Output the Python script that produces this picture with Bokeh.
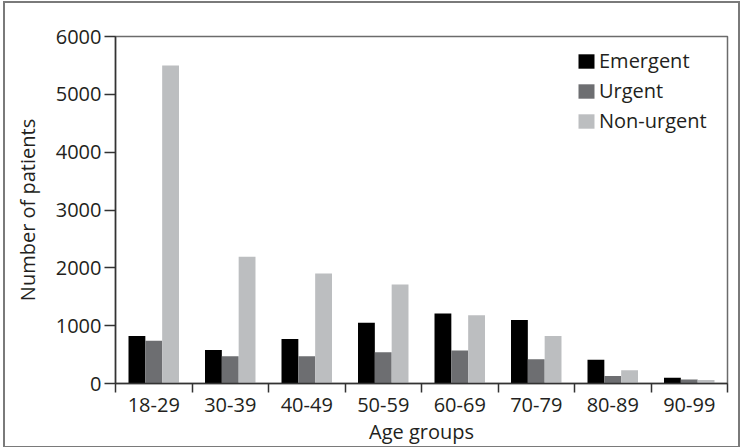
from bokeh.plotting import figure
from bokeh.models import Range1d, FixedTicker, ColumnDataSource
from bokeh.transform import dodge
from bokeh.embed import file_html
from bokeh.resources import INLINE

age_groups = ["18-29", "30-39", "40-49", "50-59", "60-69", "70-79", "80-89", "90-99"]
emergent = [820, 580, 770, 1050, 1210, 1100, 410, 100]
urgent = [740, 470, 470, 540, 570, 420, 130, 70]
non_urgent = [5500, 2190, 1900, 1710, 1180, 820, 230, 60]
y_ticks = [0, 1000, 2000, 3000, 4000, 5000, 6000]

FONT = "Open Sans"
TXT = "#231f20"
FS = "20px"

pos = [i + 0.5 for i in range(len(age_groups))]
src = ColumnDataSource(dict(x=pos, e=emergent, u=urgent, n=non_urgent))

p = figure(width=737, height=447, output_backend="svg", toolbar_location=None,
           x_range=Range1d(0, len(age_groups)), y_range=Range1d(0, 6000),
           min_border_left=110, min_border_right=15, min_border_top=33, min_border_bottom=67)
p.styles = {"border": "2px solid #7a7a7a", "margin-left": "3px", "margin-top": "1px"}

w = 0.22
p.vbar(x=dodge("x", -w, range=p.x_range), top="e", width=w, source=src,
       fill_color="#000000", line_color=None, legend_label="Emergent")
p.vbar(x=dodge("x", 0, range=p.x_range), top="u", width=w, source=src,
       fill_color="#6d6e71", line_color=None, legend_label="Urgent")
p.vbar(x=dodge("x", w, range=p.x_range), top="n", width=w, source=src,
       fill_color="#bcbec0", line_color=None, legend_label="Non-urgent")

p.grid.visible = False
p.outline_line_color = "#6b6b6b"
p.outline_line_width = 1.5
p.background_fill_color = "white"
p.border_fill_color = "white"

# x axis
xa = p.xaxis[0]
xa.ticker = FixedTicker(ticks=pos, minor_ticks=list(range(len(age_groups) + 1)))
xa.major_label_overrides = {pv: g for pv, g in zip(pos, age_groups)}
xa.major_tick_out = 0
xa.major_tick_in = 0
xa.minor_tick_out = 9
xa.minor_tick_in = 0
xa.minor_tick_line_color = "#333333"
xa.minor_tick_line_width = 1.5
xa.major_label_standoff = 5
xa.axis_label = "Age groups"
xa.axis_label_standoff = 3

# y axis
ya = p.yaxis[0]
ya.ticker = FixedTicker(ticks=y_ticks)
ya.major_tick_out = 11
ya.major_tick_in = 0
ya.minor_tick_out = 0
ya.minor_tick_in = 0
ya.major_tick_line_color = "#333333"
ya.major_tick_line_width = 1.5
ya.major_label_standoff = 3
ya.axis_label = "Number of patients"
ya.axis_label_standoff = 12

for ax in (xa, ya):
    ax.axis_line_color = "#333333"
    ax.axis_line_width = 1.5
    ax.major_label_text_font = FONT
    ax.major_label_text_font_size = FS
    ax.major_label_text_color = TXT
    ax.axis_label_text_font = FONT
    ax.axis_label_text_font_size = FS
    ax.axis_label_text_font_style = "normal"
    ax.axis_label_text_color = TXT

lg = p.legend[0]
lg.location = (461, 249)
lg.border_line_color = None
lg.background_fill_alpha = 0
lg.margin = 0
lg.padding = 0
lg.glyph_width = 20
lg.glyph_height = 18
lg.label_height = 18
lg.label_standoff = 3
lg.spacing = 3
lg.label_text_font = FONT
lg.label_text_font_size = FS
lg.label_text_color = TXT

open("out.html", "w").write(file_html(p, INLINE))
